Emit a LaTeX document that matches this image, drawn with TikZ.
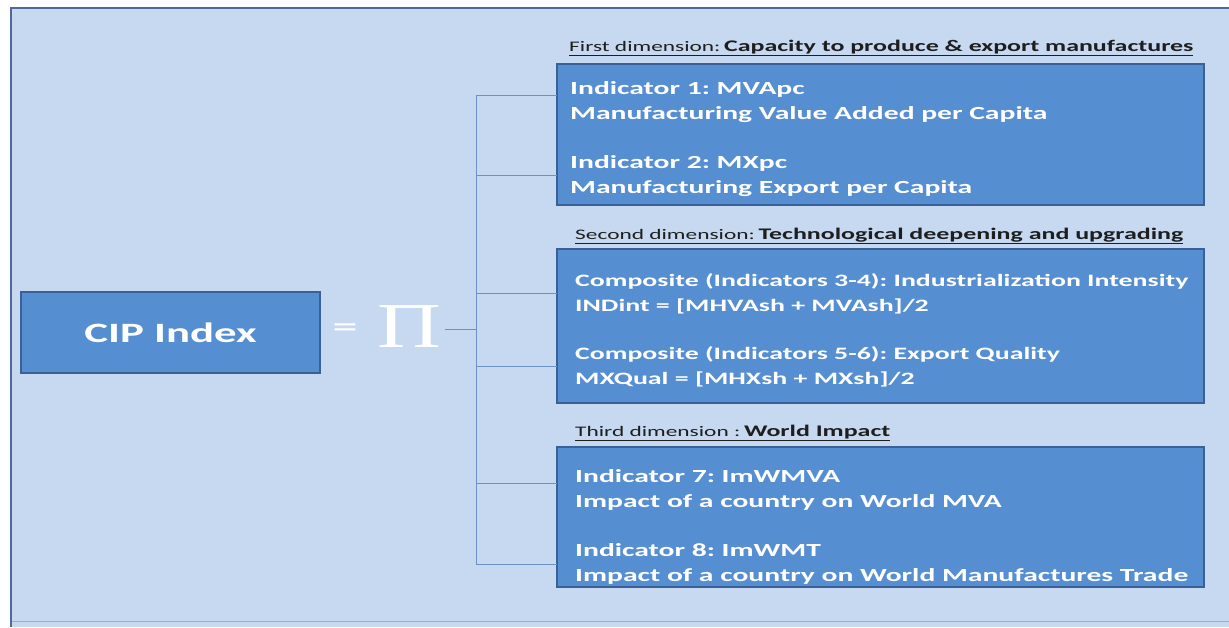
\documentclass[tikz,border=0pt]{standalone}
\usepackage{fontspec}
\setmainfont{Carlito}[FakeStretch=1.6]
\newfontfamily\pifont{Liberation Serif}[FakeStretch=1.38]
\usetikzlibrary{positioning}
\definecolor{bgblue}{RGB}{198,217,240}
\definecolor{boxblue}{RGB}{86,142,210}
\definecolor{boxedge}{RGB}{58,96,150}
\definecolor{framebl}{RGB}{78,106,156}
\definecolor{linkbl}{RGB}{110,145,196}
\definecolor{headtxt}{RGB}{30,30,30}
\frenchspacing

\begin{document}
\begin{tikzpicture}[x=1pt, y=-1pt,
    dimbox/.style={draw=boxedge, line width=1.2pt, fill=boxblue, minimum width=647pt},
    dimtext/.style={anchor=west, inner sep=0pt, text=white, align=left,
      font=\fontsize{#1}{25}\selectfont\bfseries},
    dimtext/.default=18.5,
    dimhead/.style={anchor=west, inner sep=0pt, text=headtxt},
    link/.style={linkbl, line width=0.9pt}]
    \useasboundingbox (0,0) rectangle (1229,627);

    % Slide background
    \fill[bgblue] (10,7) rectangle (1229,627);
    \draw[framebl!40!bgblue, line width=1pt] (11,621) -- (1229,621);
    \draw[framebl, line width=2.5pt] (11,627) -- (11,8) -- (1229,8);

    % Index and product sign
    \node[draw=boxedge, line width=1.2pt, fill=boxblue, text=white, minimum width=299pt,
      minimum height=81pt, font=\fontsize{28}{28}\selectfont\bfseries] (cip) at (170.5,332.5) {CIP Index};
    \node[text=white, font=\fontsize{32}{32}\selectfont] (eq) at (345,331) {=};
    \node[text=white, font=\pifont\fontsize{64}{64}\selectfont] (prod) at (409.5,327) {Π};

    % Dimension headers
    \node[dimhead] (h1) at (569,48) {\underline{{\fontsize{14.6}{16}\selectfont First dimension:}
      {\bfseries\fontsize{16.2}{20}\selectfont Capacity to produce \& export manufactures}}};
    \node[dimhead] (h2) at (575,236) {\underline{{\fontsize{14.6}{16}\selectfont Second dimension:}
      {\bfseries\fontsize{16.2}{20}\selectfont Technological deepening and upgrading}}};
    \node[dimhead] (h3) at (575,433) {\underline{{\fontsize{14.6}{16}\selectfont Third dimension :}
      {\bfseries\fontsize{16.2}{20}\selectfont World Impact}}};

    % Indicator boxes
    \node[dimbox, minimum height=141pt] (dim1) at (880.5,134.5) {};
    \node[dimbox, minimum height=154pt] (dim2) at (880.5,326) {};
    \node[dimbox, minimum height=140pt] (dim3) at (880.5,517) {};
    \node[dimtext] (ind12) at (570,139.5) {Indicator 1: MVApc\\
      Manufacturing Value Added per Capita\\[24pt]
      Indicator 2: MXpc\\
      Manufacturing Export per Capita};
    \node[dimtext=17.4] (ind36) at (575,330) {Composite (Indicators 3-4): Industrialization Intensity\\
      INDint = [MHVAsh + MVAsh]/2\\[23pt]
      Composite (Indicators 5-6): Export Quality\\
      MXQual = [MHXsh + MXsh]/2};
    \node[dimtext] (ind78) at (575,526.5) {Indicator 7: ImWMVA\\
      Impact of a country on World MVA\\[24pt]
      Indicator 8: ImWMT\\
      Impact of a country on World Manufactures Trade};

    % Bracket from the product sign to the indicators
    \coordinate (fork) at (476,329);
    \coordinate (b1) at (557,95);
    \coordinate (b2) at (557,175);
    \coordinate (b3) at (557,293);
    \coordinate (b4) at (557,366);
    \coordinate (b5) at (557,483);
    \coordinate (b6) at (557,564);
    \draw[link] (prod.east |- fork) -- (fork);
    \draw[link] (b1 -| fork) -- (b6 -| fork);
    \foreach \i in {1,...,6}
        \draw[link] (b\i -| fork) -- (b\i);
\end{tikzpicture}
\end{document}
